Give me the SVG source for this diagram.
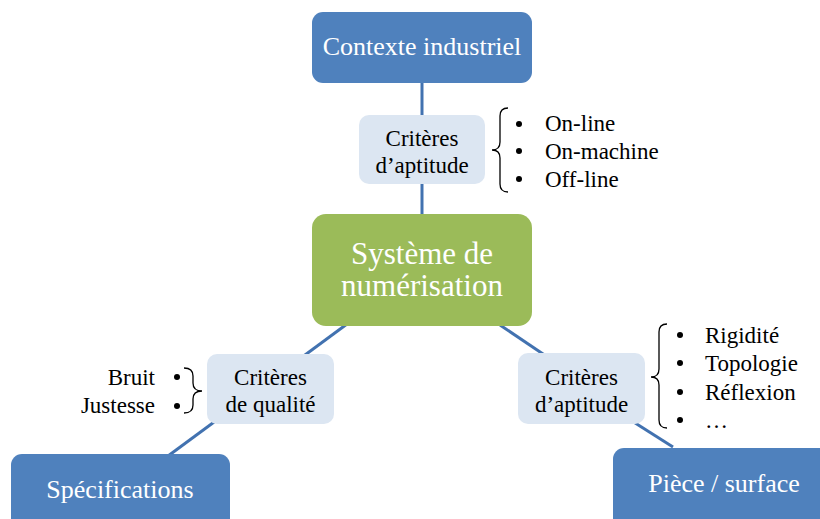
<svg xmlns="http://www.w3.org/2000/svg" width="820" height="519" viewBox="0 0 820 519">
  <style>
    text { font-family: "Liberation Serif", "Times New Roman", serif; }
    .big { fill: #4F81BD; }
    .green { fill: #9BBB59; }
    .light { fill: #DCE6F2; }
    .wt { fill: #FFFFFF; text-anchor: middle; }
    .bt { fill: #000000; text-anchor: middle; font-size: 23px; }
    .lt { fill: #000000; font-size: 23px; }
    .conn { stroke: #4272B0; stroke-width: 3; fill: none; }
    .brace { stroke: #000000; stroke-width: 1.3; fill: none; }
    .dot { fill: #000000; }
  </style>
  <rect width="820" height="519" fill="#FFFFFF"/>
  <g id="connectors">
    <line class="conn" x1="422" y1="80" x2="422" y2="118"/>
    <line class="conn" x1="422" y1="181" x2="422" y2="217"/>
    <line class="conn" x1="347" y1="324" x2="168" y2="456"/>
    <line class="conn" x1="500" y1="325" x2="546" y2="356"/>
    <line class="conn" x1="632" y1="421" x2="673" y2="447"/>
  </g>
  <g id="contexte">
    <rect class="big" x="312" y="12" width="220" height="71" rx="11"/>
    <text class="wt" x="422" y="55" font-size="26">Contexte industriel</text>
  </g>
  <g id="criteres-aptitude-top">
    <rect class="light" x="359" y="115" width="126" height="69" rx="10"/>
    <text class="bt" x="422" y="146">Critères</text>
    <text class="bt" x="422" y="173">d’aptitude</text>
  </g>
  <g id="list-top">
    <path class="brace" d="M508,108 Q500,108 500,116 L500,142 Q500,150 492,150 Q500,150 500,158 L500,184 Q500,192 508,192"/>
    <circle class="dot" cx="519" cy="124" r="3"/>
    <circle class="dot" cx="519" cy="151" r="3"/>
    <circle class="dot" cx="519" cy="179" r="3"/>
    <text class="lt" x="545" y="131">On-line</text>
    <text class="lt" x="545" y="159">On-machine</text>
    <text class="lt" x="545" y="187">Off-line</text>
  </g>
  <g id="systeme">
    <rect class="green" x="312" y="214" width="220" height="112" rx="14"/>
    <text class="wt" x="422" y="264" font-size="31">Système de</text>
    <text class="wt" x="422" y="296" font-size="31">numérisation</text>
  </g>
  <g id="criteres-qualite">
    <rect class="light" x="207" y="354" width="127" height="70" rx="10"/>
    <text class="bt" x="270.5" y="385">Critères</text>
    <text class="bt" x="270.5" y="412">de qualité</text>
  </g>
  <g id="list-left">
    <path class="brace" d="M184,368 Q193,368 193,376 L193,383 Q193,391 202,391 Q193,391 193,399 L193,405 Q193,413 184,413"/>
    <circle class="dot" cx="177" cy="377" r="3"/>
    <circle class="dot" cx="177" cy="406" r="3"/>
    <text class="lt" x="155" y="385" text-anchor="end">Bruit</text>
    <text class="lt" x="155" y="413" text-anchor="end">Justesse</text>
  </g>
  <g id="criteres-aptitude-right">
    <rect class="light" x="518" y="353" width="127" height="71" rx="10"/>
    <text class="bt" x="581.5" y="385">Critères</text>
    <text class="bt" x="581.5" y="412">d’aptitude</text>
  </g>
  <g id="list-right">
    <path class="brace" d="M667,324 Q659,324 659,332 L659,369 Q659,377 651,377 Q659,377 659,385 L659,420 Q659,428 667,428"/>
    <circle class="dot" cx="680" cy="335" r="3"/>
    <circle class="dot" cx="680" cy="363" r="3"/>
    <circle class="dot" cx="680" cy="392" r="3"/>
    <circle class="dot" cx="680" cy="420" r="3"/>
    <text class="lt" x="705" y="343">Rigidité</text>
    <text class="lt" x="705" y="371">Topologie</text>
    <text class="lt" x="705" y="400">Réflexion</text>
    <text class="lt" x="705" y="428">…</text>
  </g>
  <g id="specifications">
    <rect class="big" x="11" y="454" width="219" height="80" rx="11"/>
    <text class="wt" x="120" y="498" font-size="26">Spécifications</text>
  </g>
  <g id="piece-surface">
    <rect class="big" x="613" y="448" width="230" height="86" rx="11"/>
    <text class="wt" x="724" y="492" font-size="26">Pièce / surface</text>
  </g>
</svg>
